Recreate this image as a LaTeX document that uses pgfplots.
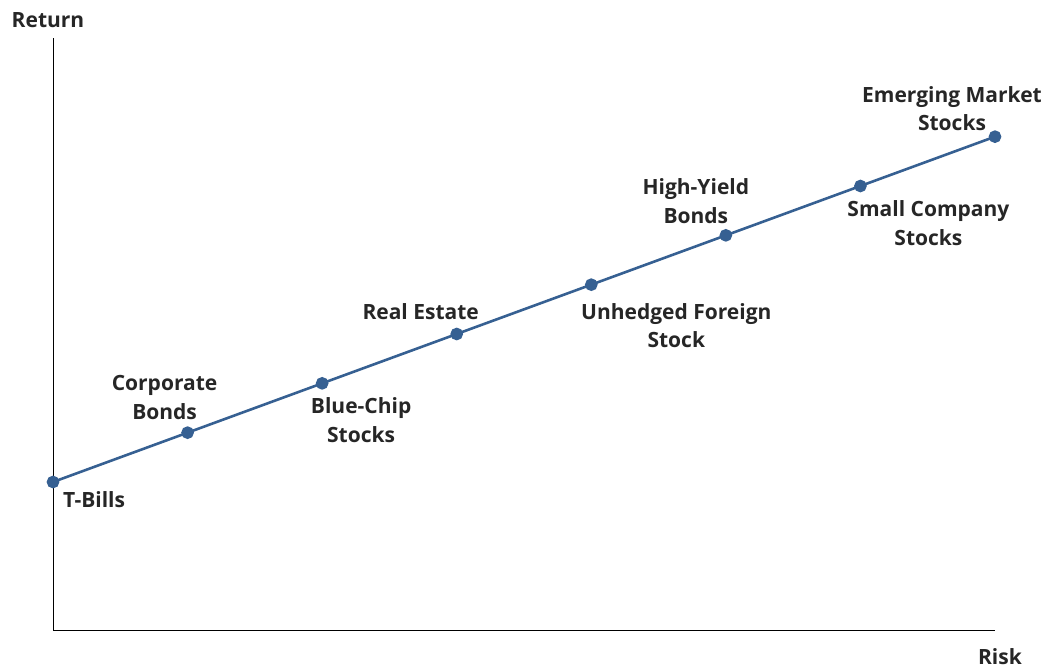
\documentclass[border=0pt]{standalone}
\usepackage{pgfplots}
\pgfplotsset{compat=1.18}
\usepackage{fontspec}
\setmainfont{Open Sans}
\definecolor{lineblue}{RGB}{54,96,146}
\definecolor{txt}{RGB}{38,38,38}
\begin{document}
\begin{tikzpicture}
\begin{axis}[
  at={(0pt,0pt)}, anchor=south west,
  width=942pt, height=592pt, scale only axis,
  xmin=0, xmax=7, ymin=-3, ymax=9,
  axis lines=left, axis line style={-, black, line width=0.8pt},
  xtick=\empty, ytick=\empty,
  clip=false,
]
\addplot[lineblue, line width=2.6pt, mark=*, mark size=5pt, mark options={fill=lineblue, draw=lineblue}]
coordinates {(0,0) (1,1) (2,2) (3,3) (4,4) (5,5) (6,6) (7,7)};
\begin{scope}[every node/.style={font=\bfseries\fontsize{21}{28.5}\selectfont, text=txt, align=center, inner sep=0pt}]
\node[anchor=west] at (axis cs:0,0) [xshift=10pt, yshift=-18pt] {T-Bills};
\node at (axis cs:1,1) [xshift=-23pt, yshift=35pt] {Corporate\\Bonds};
\node at (axis cs:2,2) [xshift=39pt, yshift=-37pt] {Blue-Chip\\Stocks};
\node at (axis cs:3,3) [xshift=-36pt, yshift=22pt] {Real Estate};
\node at (axis cs:4,4) [xshift=85pt, yshift=-41pt] {Unhedged Foreign\\Stock};
\node at (axis cs:5,5) [xshift=-30pt, yshift=34pt] {High-Yield\\Bonds};
\node at (axis cs:6,6) [xshift=68pt, yshift=-37pt] {Small Company\\Stocks};
\node at (axis cs:7,7) [xshift=-43pt, yshift=28pt] {Emerging Market\\Stocks};
\node at (rel axis cs:0,1) [xshift=-5pt, yshift=18pt] {Return};
\node at (rel axis cs:1,0) [xshift=5pt, yshift=-27pt] {Risk};
\end{scope}
\end{axis}
\path (-53pt,-40pt) rectangle (1004pt,630pt);
\end{tikzpicture}
\end{document}
